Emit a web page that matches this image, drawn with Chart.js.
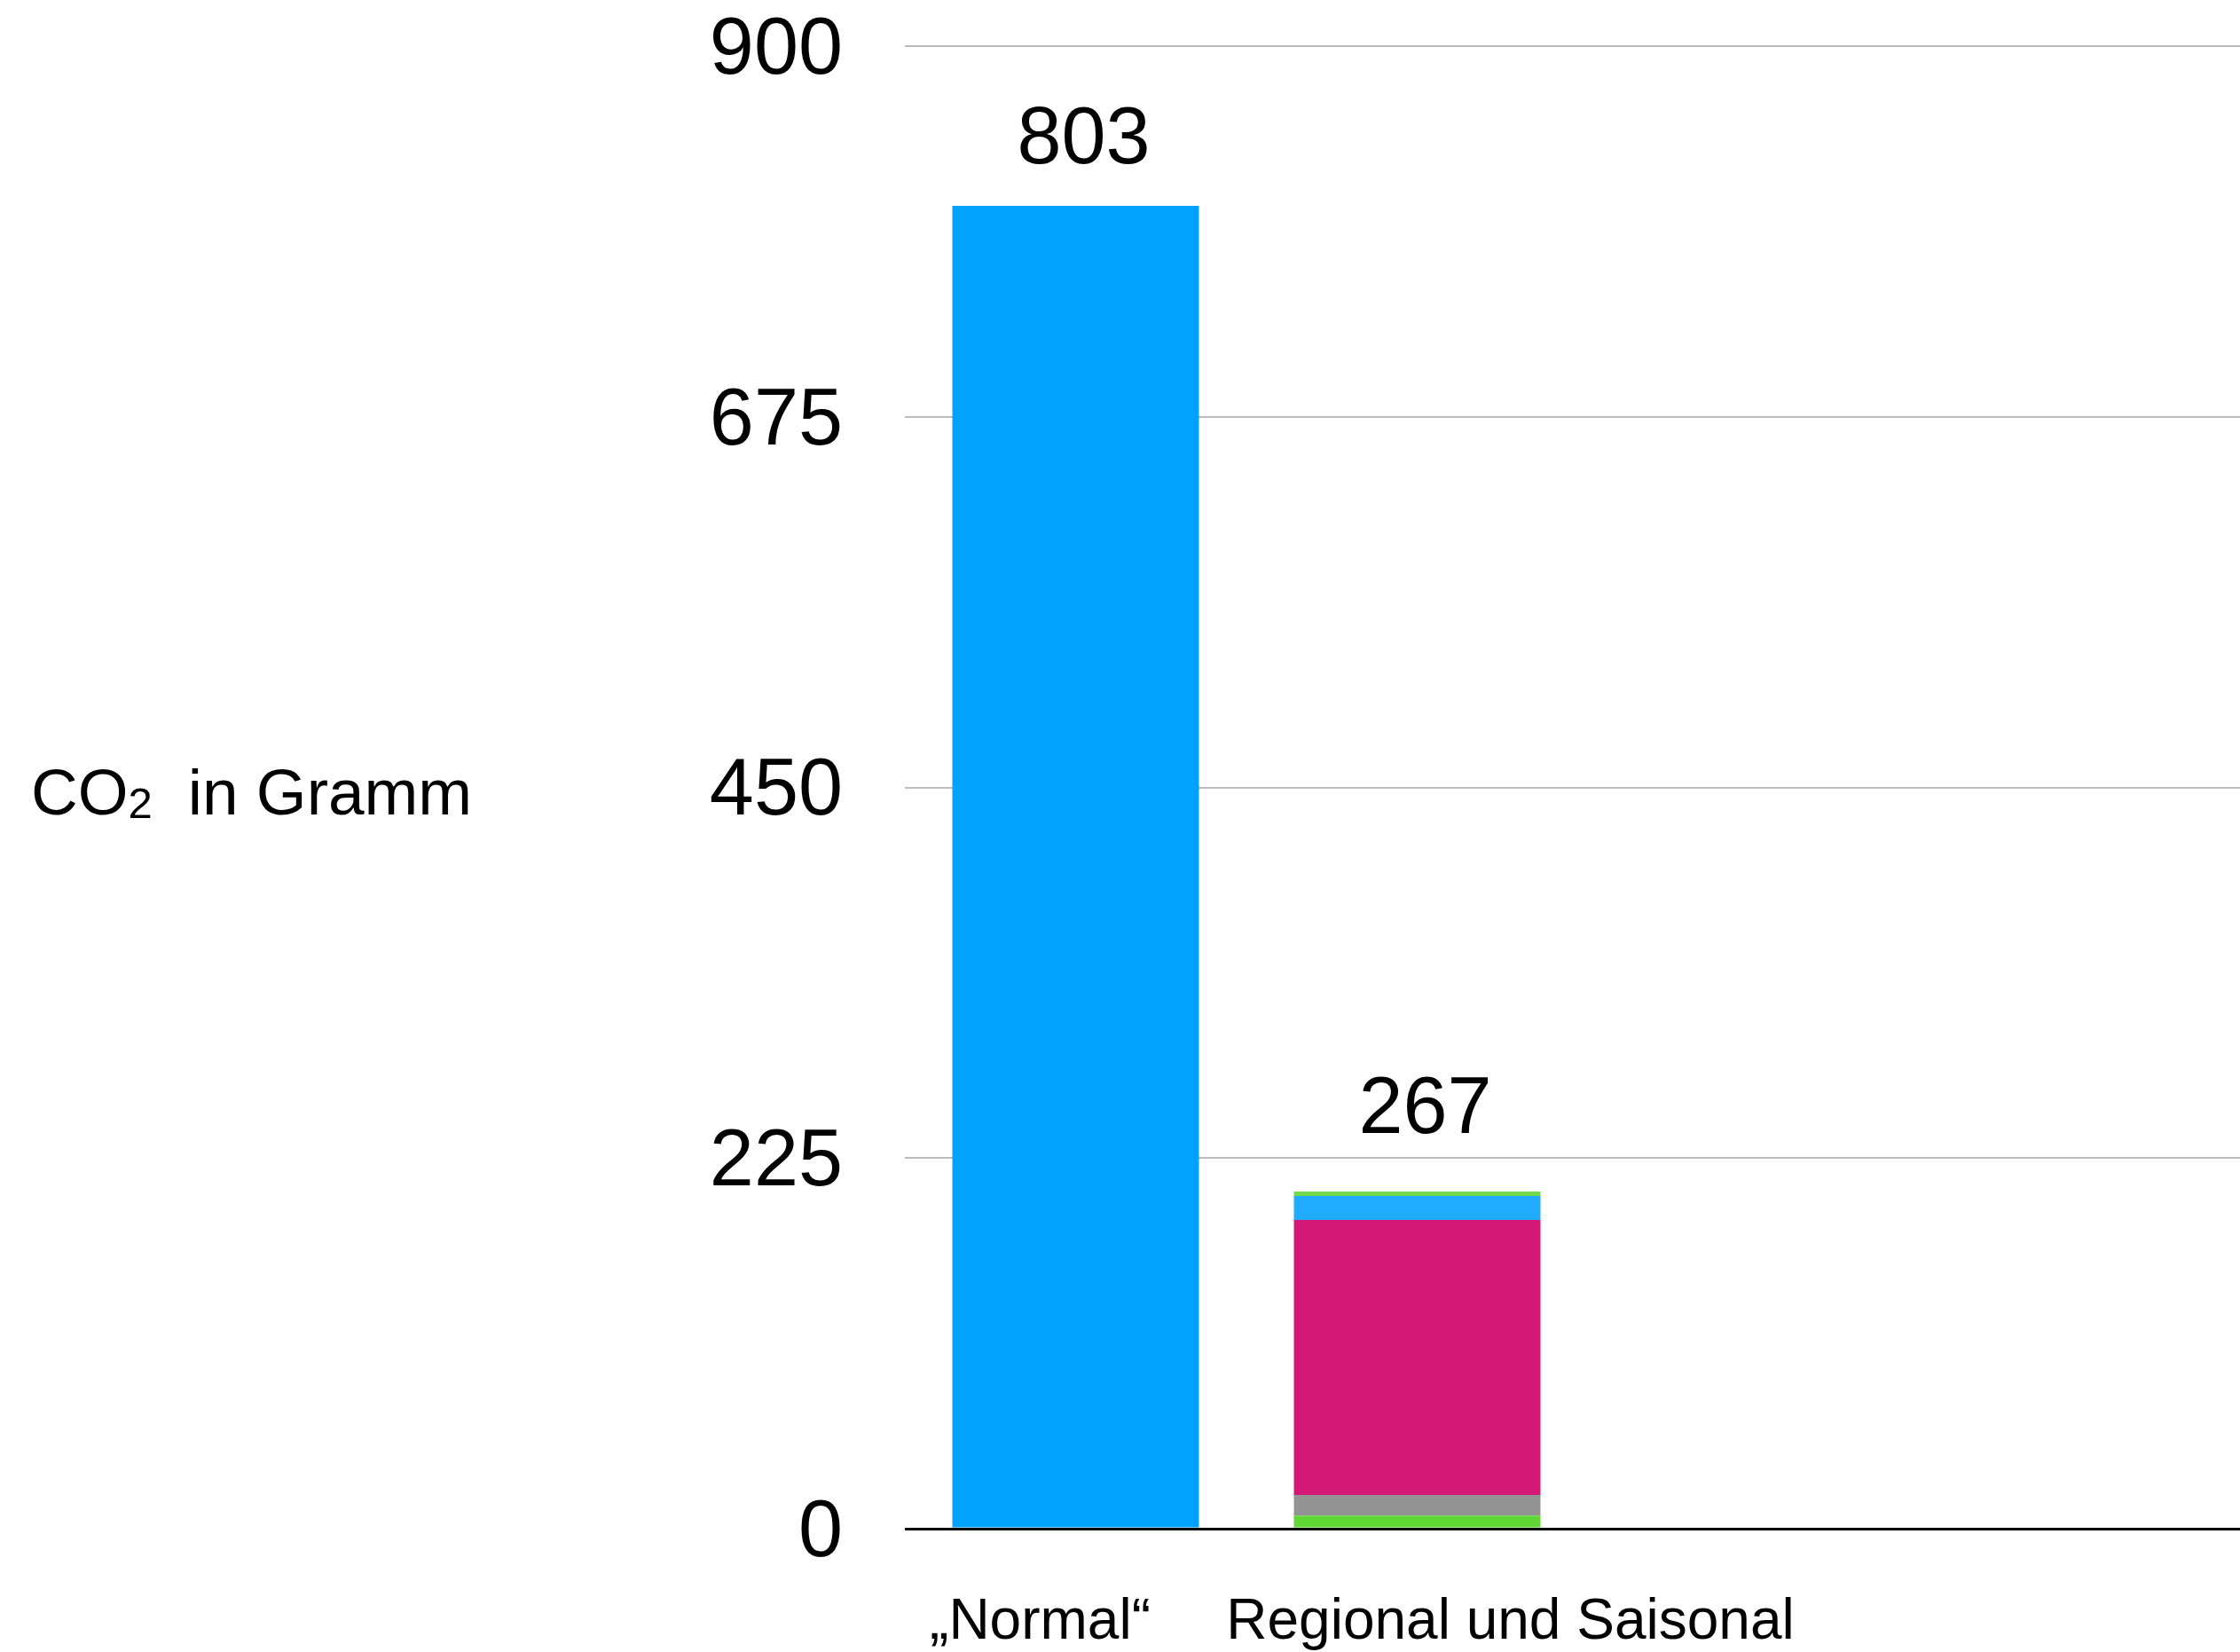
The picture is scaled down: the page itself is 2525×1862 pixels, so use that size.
<!DOCTYPE html>
<html>
<head>
<meta charset="utf-8">
<script src="https://cdn.jsdelivr.net/npm/chart.js@4/dist/chart.umd.min.js"></script>
<style>
html, body { margin: 0; padding: 0; overflow: hidden; background: #fff; }
</style>
</head>
<body>
<canvas id="co2" width="2560" height="1862"></canvas>
<script>
const FONT = '"Liberation Sans", Helvetica, Arial, sans-serif';

// chart data
const categories = ["„Normal“", "Regional und Saisonal", "", ""];
const totals = [803, 267];
const normalBar = [803, null, null, null];
const segGreen = [null, 8, null, null];
const segGray = [null, 12.5, null, null];
const segMagenta = [null, 167, null, null];
const segBlue = [null, 14.5, null, null];
const segGreenTop = [null, 2.7, null, null];
const yTicks = [0, 225, 450, 675, 900];

// small placement tweaks for the texts (pixels)
const valueGap = [48, 66];
const labelShift = [-40, 105];

// draws the value labels, category labels and the axis title
const annotate = {
  id: 'annotate',
  afterDatasetsDraw(chart) {
    const { ctx, chartArea } = chart;
    const x = chart.scales.x, y = chart.scales.y;
    ctx.save();
    ctx.fillStyle = '#000';
    ctx.textBaseline = 'alphabetic';

    ctx.font = '90px ' + FONT;
    ctx.textAlign = 'center';
    totals.forEach((t, i) => {
      let top = 0;
      chart.data.datasets.forEach(ds => { top += ds.data[i] || 0; });
      ctx.fillText(String(t), x.getPixelForValue(i) + 9, y.getPixelForValue(top) - valueGap[i]);
    });

    ctx.font = '64px ' + FONT;
    categories.forEach((c, i) => {
      if (c) ctx.fillText(c, x.getPixelForValue(i) + labelShift[i], chartArea.bottom + 124);
    });

    // "CO2 in Gramm" with subscript
    const base = y.getPixelForValue(450) + 30;
    ctx.textAlign = 'left';
    let px = 35;
    ctx.font = '73px ' + FONT;
    ctx.fillText('CO', px, base);
    px += ctx.measureText('CO').width;
    ctx.font = '49px ' + FONT;
    ctx.fillText('2', px, base + 4);
    px += ctx.measureText('2').width + 40;
    ctx.font = '73px ' + FONT;
    ctx.fillText('in Gramm', px, base);
    ctx.restore();
  }
};

function seg(data, color) {
  return { data: data, backgroundColor: color, borderWidth: 0 };
}

new Chart(document.getElementById('co2'), {
  type: 'bar',
  data: {
    labels: categories,
    datasets: [
      seg(normalBar, '#00A2FF'),
      seg(segGreen, '#61D836'),
      seg(segGray, '#949494'),
      seg(segMagenta, '#D41876'),
      seg(segBlue, '#22ACFF'),
      seg(segGreenTop, '#70DA4C')
    ]
  },
  options: {
    responsive: false,
    devicePixelRatio: 1,
    animation: false,
    barPercentage: 0.722,
    categoryPercentage: 1,
    layout: { padding: { top: 52, left: 0, right: 0, bottom: 0 } },
    plugins: {
      legend: { display: false },
      tooltip: { enabled: false }
    },
    scales: {
      x: {
        stacked: true,
        grid: { display: false },
        border: { display: false },
        ticks: { display: false },
        afterFit: s => { s.height = 139; }
      },
      y: {
        stacked: true,
        min: 0,
        max: 900,
        afterBuildTicks: s => { s.ticks = yTicks.map(v => ({ value: v })); },
        border: { display: false },
        grid: {
          drawTicks: false,
          color: c => c.tick && c.tick.value === 0 ? '#000' : '#BBBBBB',
          lineWidth: c => c.tick && c.tick.value === 0 ? 3 : 2
        },
        ticks: {
          padding: 70,
          labelOffset: 6,
          color: '#000',
          font: { family: FONT, size: 90 }
        },
        afterFit: s => {
          s.width = 1020;
          s.paddingTop = 0;
          s.paddingBottom = 0;
        }
      }
    }
  },
  plugins: [annotate]
});
</script>
</body>
</html>
